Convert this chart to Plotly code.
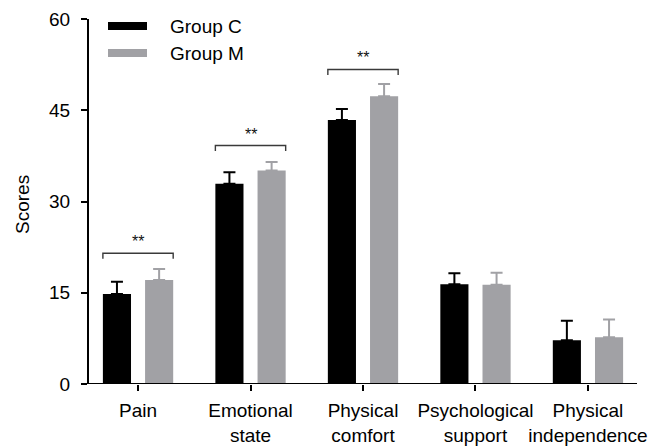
import plotly.graph_objects as go

# Domain scores by group (mean and upper SD)
categories = ["Pain", "Emotional<br>state", "Physical<br>comfort",
              "Psychological<br>support", "Physical<br>independence"]
group_c = [14.8, 32.9, 43.4, 16.4, 7.2]
group_c_sd = [2.0, 1.9, 1.8, 1.8, 3.2]
group_m = [17.1, 35.1, 47.3, 16.3, 7.7]
group_m_sd = [1.8, 1.4, 2.0, 2.0, 2.9]

# Significance brackets: category index, bracket height, label
sig_idx = [0, 1, 2]
sig_y = [21.5, 39.2, 51.7]
sig_text = ["**", "**", "**"]

y_ticks = [0, 15, 30, 45, 60]

BLACK = "#000000"
GRAY = "#A1A1A5"
FONT = "Liberation Sans, Arial, sans-serif"

# plot area geometry (px)
L, R, T, B = 89, 15, 19, 63
PW, PH = 652 - L - R, 447 - T - B

x = list(range(len(categories)))
bar_w = 0.25
half_gap = 0.0625

fig = go.Figure()
fig.add_trace(go.Bar(
    x=x, y=group_c, name="Group C", width=bar_w, offset=-bar_w - half_gap,
    marker=dict(color=BLACK, line=dict(width=0)),
    error_y=dict(type="data", array=group_c_sd, arrayminus=[0] * 5,
                 symmetric=False, color=BLACK, thickness=2, width=6),
))
fig.add_trace(go.Bar(
    x=x, y=group_m, name="Group M", width=bar_w, offset=half_gap,
    marker=dict(color=GRAY, line=dict(width=0)),
    error_y=dict(type="data", array=group_m_sd, arrayminus=[0] * 5,
                 symmetric=False, color=GRAY, thickness=2, width=6),
))

shapes = []
annotations = []
for i, yb, t in zip(sig_idx, sig_y, sig_text):
    x0 = i - bar_w - half_gap
    x1 = i + half_gap + bar_w
    drop = 0.9
    shapes.append(dict(
        type="path", xref="x", yref="y",
        path=f"M {x0},{yb - drop} L {x0},{yb} L {x1},{yb} L {x1},{yb - drop}",
        line=dict(color="#3a3a3a", width=1.4),
    ))
    annotations.append(dict(
        x=i, y=yb, xref="x", yref="y", text=t, showarrow=False,
        yanchor="bottom", yshift=1, font=dict(family=FONT, size=16, color="#111111"),
    ))

# x-axis baseline extends slightly left of the y-axis
shapes.append(dict(type="line", xref="paper", yref="y", x0=-6 / PW, x1=1, y0=0, y1=0,
                   line=dict(color=BLACK, width=2)))

# Legend swatches
legend_items = [("Group C", BLACK, 26), ("Group M", GRAY, 53)]
for name, col, ypx in legend_items:
    yp = 1 - (ypx - T) / PH
    shapes.append(dict(type="rect", xref="paper", yref="paper",
                       x0=(108 - L) / PW, x1=(147 - L) / PW,
                       y0=yp - 4 / PH, y1=yp + 4 / PH,
                       fillcolor=col, line=dict(width=0)))
    annotations.append(dict(x=(168 - L) / PW, y=yp, xref="paper", yref="paper", text=name,
                            showarrow=False, xanchor="left", yanchor="middle",
                            font=dict(family=FONT, size=19, color=BLACK)))

# y-axis title
annotations.append(dict(x=(22 - L) / PW, y=1 - (205 - T) / PH, xref="paper", yref="paper",
                        text="Scores", showarrow=False, textangle=-90,
                        xanchor="center", yanchor="middle",
                        font=dict(family=FONT, size=19, color=BLACK)))

fig.update_layout(
    width=652, height=447,
    margin=dict(l=L, r=R, t=T, b=B),
    plot_bgcolor="white", paper_bgcolor="white",
    showlegend=False,
    font=dict(family=FONT, size=19, color=BLACK),
    shapes=shapes, annotations=annotations,
    xaxis=dict(
        range=[-0.436, 4.436], tickmode="array", tickvals=x, ticktext=categories,
        showline=False, ticks="outside", ticklen=6, tickwidth=2, tickcolor=BLACK,
        showgrid=False, zeroline=False, tickfont=dict(size=19),
        tickangle=0, automargin=False, ticklabelstandoff=3,
    ),
    yaxis=dict(
        range=[0, 60], tickmode="array", tickvals=y_ticks,
        showline=True, linecolor=BLACK, linewidth=2,
        ticks="outside", ticklen=6, tickwidth=2, tickcolor=BLACK,
        showgrid=False, zeroline=False, tickfont=dict(size=19),
        automargin=False, ticklabelstandoff=7,
    ),
)

fig.write_html("out.html")
